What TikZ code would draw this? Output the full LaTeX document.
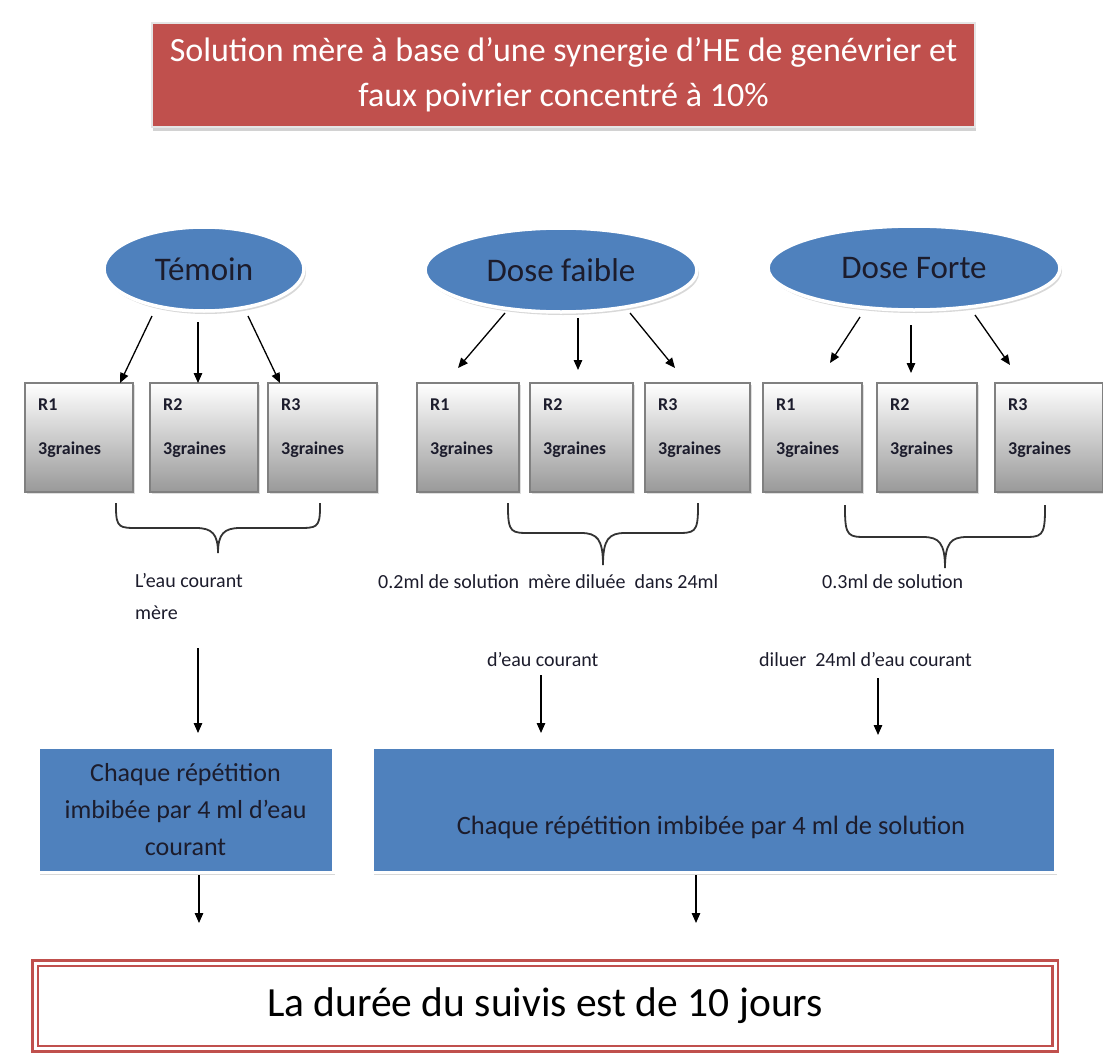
\documentclass[tikz,border=0pt]{standalone}
\usepackage{fontspec}
\setmainfont{Carlito}
\usetikzlibrary{arrows.meta,shadows,shapes.geometric}
\definecolor{hered}{HTML}{C0504D}
\definecolor{heblue}{HTML}{4F81BD}
\definecolor{txtdark}{HTML}{1C1C2C}
\newcommand{\hebrace}[5]{% left, right, top, horizontal, tip bottom
  \draw[brc] (#1,#3) -- (#1,{#3+5}) .. controls (#1,#4) and ({#1+4},#4) .. ({#1+22},#4)
    -- ({(#1+#2)/2-22},#4) .. controls ({(#1+#2)/2-6},#4) and ({(#1+#2)/2},{#4+6}) .. ({(#1+#2)/2},#5)
    .. controls ({(#1+#2)/2},{#4+6}) and ({(#1+#2)/2+6},#4) .. ({(#1+#2)/2+22},#4)
    -- ({#2-22},#4) .. controls ({#2-4},#4) and (#2,#4) .. (#2,{#3+5}) -- (#2,#3);}
\newcommand{\repbox}[4]{% name, left, right, label
  \node[gbox, minimum width={#3-#2}] (#1) at ({(#2+#3)/2},437.5) {};
  \node[blbl] (#1r) at ({#2+13},405) {#4};
  \node[blbl] (#1g) at ({#2+13},450) {3graines};}
\begin{document}
\begin{tikzpicture}[x=1pt,y=-1pt,
  arr/.style={-{Triangle[length=10pt,width=8.5pt]},line width=1.3pt,black},
  brc/.style={line width=1.8pt,draw=black!80},
  title/.style={rectangle,fill=hered,draw=black!10,line width=2.5pt,
    drop shadow={shadow xshift=1pt,shadow yshift=-4pt,fill=black!35},
    text=white,font=\fontsize{34}{45}\selectfont,align=center,inner sep=0pt},
  oval/.style={ellipse,fill=heblue,draw=white,line width=3.5pt,
    drop shadow={shadow xshift=2pt,shadow yshift=-3pt,fill=black!30},
    text=txtdark,font=\fontsize{33}{40}\selectfont,inner sep=0pt,minimum height=84},
  gbox/.style={rectangle,top color=white,bottom color=black!40,draw=black!50,line width=1.6pt,
    minimum height=109,inner sep=0pt,
    drop shadow={shadow xshift=1.5pt,shadow yshift=-2pt,fill=black!25}},
  blbl/.style={anchor=west,font=\bfseries\fontsize{18}{20}\selectfont,text=txtdark,inner sep=0pt},
  lbl/.style={anchor=west,font=\fontsize{20}{31}\selectfont,text=txtdark,inner sep=0pt},
  bbox/.style={rectangle,fill=heblue,draw=white,line width=3pt,minimum height=125,
    drop shadow={shadow xshift=2pt,shadow yshift=-3pt,fill=black!30},
    text=txtdark,font=\fontsize{26}{37}\selectfont,align=center,inner sep=0pt},
  fin/.style={rectangle,draw=hered,line width=2.5pt,double=white,double distance=3pt,
    font=\fontsize{41.5}{48}\selectfont,text=black,inner sep=0pt}]
\fill[white] (0,0) rectangle (1103,1057);
\useasboundingbox (0,0) rectangle (1103,1057);

% title
\node[title,minimum width=823,minimum height=104] (sol) at (563.5,75)
  {Solution mère à base d’une synergie d’HE de genévrier et\\faux poivrier concentré à 10\%};

% ellipses
\node[oval,minimum width=200] (tem) at (204,269) {Témoin};
\node[oval,minimum width=272] (fai) at (561,270) {Dose faible};
\node[oval,minimum width=292] (for) at (914,268) {Dose Forte};

% repetition boxes
\repbox{t1}{25}{133}{R1}
\repbox{t2}{150}{258}{R2}
\repbox{t3}{268}{377}{R3}
\repbox{a1}{417}{519}{R1}
\repbox{a2}{530}{633}{R2}
\repbox{a3}{645}{750}{R3}
\repbox{b1}{763}{862}{R1}
\repbox{b2}{877}{977}{R2}
\repbox{b3}{995}{1103}{R3}

% arrow end points
\coordinate (ts1) at (152,316); \coordinate (te1) at (120,383);
\coordinate (ts2) at (198,322); \coordinate (te2) at (198,383);
\coordinate (ts3) at (248,316); \coordinate (te3) at (280,383);
\coordinate (as1) at (505,313); \coordinate (ae1) at (458,368);
\coordinate (as2) at (578,318); \coordinate (ae2) at (578,370);
\coordinate (as3) at (630,313); \coordinate (ae3) at (675,368);
\coordinate (bs1) at (860,317); \coordinate (be1) at (830,363);
\coordinate (bs2) at (911,325); \coordinate (be2) at (911,373);
\coordinate (bs3) at (975,315); \coordinate (be3) at (1010,365);
\foreach \p in {t,a,b}{\foreach \i in {1,2,3}{\draw[arr] (\p s\i) -- (\p e\i);}}

% braces
\hebrace{116}{320}{503}{528}{553}
\hebrace{508}{698}{503}{533}{565}
\hebrace{845}{1045}{505}{537}{568}

% labels
\node[lbl] (tl1) at (135,581) {L’eau courant};
\node[lbl] (tl2) at (135,613) {mère};
\node[lbl] (fl1) at (378,582) {0.2ml de solution\ \ mère diluée\ \ dans 24ml};
\node[lbl] (fl2) at (487,660) {d’eau courant};
\node[lbl] (Fl1) at (822,582) {0.3ml de solution};
\node[lbl] (Fl2) at (759,660) {diluer\ \ 24ml d’eau courant};

% blue boxes
\node[bbox,minimum width=295] (bl) at (185.5,809.5) {Chaque répétition\\imbibée par 4 ml d’eau\\courant};
\node[bbox,minimum width=683] (br) at (713.5,809.5) {};
\node[text=txtdark,font=\fontsize{26.5}{37}\selectfont,inner sep=0pt] (brt) at (711,827)
  {Chaque répétition imbibée par 4 ml de solution};

\coordinate (m1s) at (198,648); \coordinate (m1e) at (198,733);
\coordinate (m2s) at (541,675); \coordinate (m2e) at (541,733);
\coordinate (m3s) at (878,678); \coordinate (m3e) at (878,735);
\draw[arr] (m1s) -- (m1e);
\draw[arr] (m2s) -- (m2e);
\draw[arr] (m3s) -- (m3e);

% final box
\node[fin,minimum width=1020,minimum height=85.5] (fin) at (545,1005.75) {La durée du suivis est de 10 jours};
\coordinate (f1s) at (199,875); \coordinate (f1e) at (199,923);
\coordinate (f2s) at (696,875); \coordinate (f2e) at (696,923);
\draw[arr] (f1s) -- (f1e);
\draw[arr] (f2s) -- (f2e);
\end{tikzpicture}
\end{document}
